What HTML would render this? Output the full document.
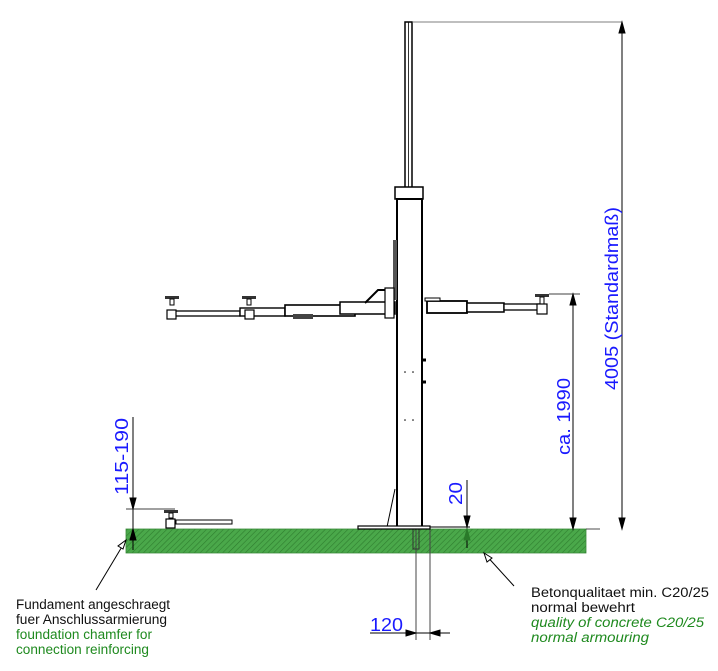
<!DOCTYPE html>
<html><head><meta charset="utf-8"><style>
html,body{margin:0;padding:0;background:#fff;}
svg{display:block}
text{font-family:"Liberation Sans",sans-serif}
</style></head><body>
<svg width="718" height="671" viewBox="0 0 718 671" xmlns="http://www.w3.org/2000/svg">
<defs>
<pattern id="h" width="4" height="4" patternUnits="userSpaceOnUse" patternTransform="rotate(45)">
<rect width="4" height="4" fill="#4aa84a"/><line x1="0" y1="0" x2="0" y2="4" stroke="#2e7d2e" stroke-width="1.2"/>
</pattern>
</defs>
<rect x="126" y="529" width="460" height="24" fill="url(#h)" stroke="#3a8a3a" stroke-width="0.8"/>
<line x1="586" y1="529" x2="600" y2="529" stroke="#000" stroke-width="0.7"/>
<line x1="416" y1="529" x2="416" y2="640" stroke="#444" stroke-width="1"/>
<line x1="430" y1="529" x2="430" y2="640" stroke="#444" stroke-width="1"/>
<rect x="413" y="529" width="6" height="20" fill="none" stroke="#333" stroke-width="1"/>
<rect x="405" y="22" width="7" height="168" fill="#fff" stroke="#000" stroke-width="1.5"/>
<line x1="408.5" y1="22" x2="408.5" y2="190" stroke="#000" stroke-width="0.8"/>
<line x1="412" y1="22" x2="622" y2="22" stroke="#555" stroke-width="0.8"/>
<rect x="395" y="187" width="28" height="12" fill="#fff" stroke="#000" stroke-width="1.5"/>
<rect x="397" y="199" width="25" height="329" fill="#fff" stroke="#000" stroke-width="2"/>
<rect x="393" y="240" width="4" height="60" fill="#555"/>
<line x1="422" y1="360" x2="426" y2="360" stroke="#000" stroke-width="3"/>
<line x1="422" y1="382" x2="426" y2="382" stroke="#000" stroke-width="3"/>
<circle cx="405" cy="372" r="0.8" fill="#000"/><circle cx="413" cy="372" r="0.8" fill="#000"/>
<circle cx="405" cy="420" r="0.8" fill="#000"/><circle cx="413" cy="420" r="0.8" fill="#000"/>
<line x1="395" y1="489" x2="387" y2="527" stroke="#000" stroke-width="1"/>
<rect x="358" y="526" width="72" height="3" fill="#fff" stroke="#000" stroke-width="1.2"/>
<rect x="427" y="301" width="40" height="12" fill="#fff" stroke="#000" stroke-width="1.8"/>
<rect x="467" y="303" width="37" height="9" fill="#fff" stroke="#000" stroke-width="1.5"/>
<rect x="504" y="304" width="35" height="6" fill="#fff" stroke="#000" stroke-width="1.3"/>
<rect x="425" y="298" width="15" height="3" fill="#fff" stroke="#000" stroke-width="1"/>
<rect x="535" y="294" width="14" height="3" fill="#333"/>
<rect x="540" y="297" width="4" height="7" fill="#fff" stroke="#000"/>
<rect x="537" y="304" width="10" height="10" fill="#fff" stroke="#000" stroke-width="1.2"/>
<line x1="549" y1="294" x2="580" y2="294" stroke="#000" stroke-width="0.8"/>
<rect x="168" y="311" width="72" height="5" fill="#fff" stroke="#000" stroke-width="1.3"/>
<rect x="240" y="308" width="45" height="8" fill="#fff" stroke="#000" stroke-width="1.4"/>
<rect x="285" y="305" width="70" height="11" fill="#fff" stroke="#000" stroke-width="1.6"/>
<rect x="340" y="302" width="55" height="12" fill="#fff" stroke="#000" stroke-width="1.5"/>
<polyline points="365,303 378,290 385,290" fill="none" stroke="#000" stroke-width="2"/>
<rect x="385" y="288" width="9" height="30" fill="#fff" stroke="#000" stroke-width="1.2"/>
<rect x="293" y="314" width="20" height="5" fill="#444"/>
<rect x="165" y="296" width="14" height="3" fill="#333"/>
<rect x="170" y="299" width="4" height="6" fill="#fff" stroke="#000"/>
<rect x="167" y="310" width="9" height="9" fill="#fff" stroke="#000" stroke-width="1.2"/>
<rect x="242" y="296" width="14" height="3" fill="#333"/>
<rect x="247" y="299" width="4" height="6" fill="#fff" stroke="#000"/>
<rect x="245" y="310" width="9" height="9" fill="#fff" stroke="#000" stroke-width="1.2"/>
<rect x="164" y="510" width="14" height="3" fill="#333"/>
<rect x="169" y="513" width="4" height="5" fill="#fff" stroke="#000"/>
<rect x="166" y="519" width="9" height="9" fill="#fff" stroke="#000" stroke-width="1.2"/>
<path d="M176 520 L232 520 L232 524 L176 524 Z" fill="#fff" stroke="#000" stroke-width="1"/>
<line x1="126" y1="509" x2="175" y2="509" stroke="#000" stroke-width="0.7"/>
<g stroke="#000" stroke-width="1" fill="#000">
<line x1="622" y1="22" x2="622" y2="529"/>
<path d="M622 22 l-3 11 h6z"/><path d="M622 529 l-3 -11 h6z"/>
<line x1="573" y1="294" x2="573" y2="529"/>
<path d="M573 294 l-3 11 h6z"/><path d="M573 529 l-3 -11 h6z"/>
<line x1="133" y1="417" x2="133" y2="550"/>
<path d="M133 509 l-3 -11 h6z"/><path d="M133 529 l-3 11 h6z"/>
<line x1="467" y1="480" x2="467" y2="548"/>
<path d="M467 527 l-3 -11 h6z"/><path d="M467 529 l-3 11 h6z" fill="#2a7a2a" stroke="#2a7a2a"/>
<line x1="430" y1="527" x2="470" y2="527"/>
<line x1="370" y1="633" x2="450" y2="633"/>
<path d="M416 633 l-10 -3 v6z"/><path d="M430 633 l10 -3 v6z"/>
<line x1="96" y1="590" x2="126" y2="540"/>
<path d="M126 540 l-8 6 l5 3z" fill="#fff"/>
<line x1="514" y1="586" x2="484" y2="553"/>
<path d="M484 553 l3 9 l5 -4z" fill="#fff"/>
</g>
<g fill="#1a1aff" font-size="18">
<text transform="translate(618,390) rotate(-90)" textLength="183" lengthAdjust="spacingAndGlyphs">4005 (Standardmaß)</text>
<text transform="translate(570,455) rotate(-90)" textLength="77" lengthAdjust="spacingAndGlyphs">ca. 1990</text>
<text transform="translate(128,495) rotate(-90)" textLength="77" lengthAdjust="spacingAndGlyphs">115-190</text>
<text transform="translate(462,505) rotate(-90)" textLength="23" lengthAdjust="spacingAndGlyphs">20</text>
<text x="370" y="631" textLength="33" lengthAdjust="spacingAndGlyphs">120</text>
</g>
<g font-size="13.5" fill="#111">
<text x="16" y="609" textLength="154" lengthAdjust="spacingAndGlyphs">Fundament angeschraegt</text>
<text x="16" y="624" textLength="151" lengthAdjust="spacingAndGlyphs">fuer Anschlussarmierung</text>
<text x="16" y="639" fill="#1f8a1f" textLength="136" lengthAdjust="spacingAndGlyphs">foundation chamfer for</text>
<text x="16" y="654" fill="#1f8a1f" textLength="133" lengthAdjust="spacingAndGlyphs">connection reinforcing</text>
<text x="531" y="597" textLength="178" lengthAdjust="spacingAndGlyphs">Betonqualitaet min. C20/25</text>
<text x="531" y="612" textLength="104" lengthAdjust="spacingAndGlyphs">normal bewehrt</text>
<text x="531" y="627" fill="#1f8a1f" font-style="italic" textLength="173" lengthAdjust="spacingAndGlyphs">quality of concrete C20/25</text>
<text x="531" y="642" fill="#1f8a1f" font-style="italic" textLength="118" lengthAdjust="spacingAndGlyphs">normal armouring</text>
</g>
</svg>
</body></html>
